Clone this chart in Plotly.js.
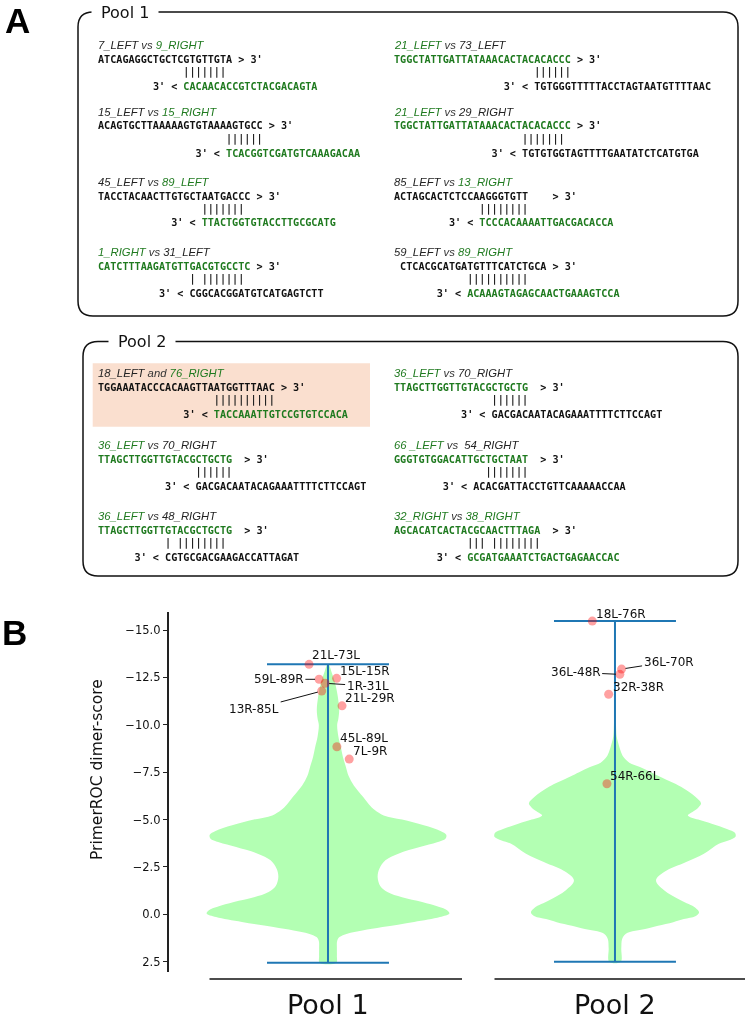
<!DOCTYPE html>
<html><head><meta charset="utf-8">
<script src="https://cdn.plot.ly/plotly-3.0.1.min.js"></script>
<style>html,body{margin:0;padding:0;background:#fff}#chart{width:749px;height:1020px}
svg.main-svg{will-change:transform}</style>
</head><body><div id="chart"></div>
<script>
// ---------------- Panel A data ----------------
const dimerPool   = [1,1,1,1,1,1,1,1, 2,2,2,2,2,2];
const dimerNameA  = ['7_LEFT','15_LEFT','45_LEFT','1_RIGHT','21_LEFT','21_LEFT','85_LEFT','59_LEFT',
                     '18_LEFT','36_LEFT','36_LEFT','36_LEFT','66 _LEFT','32_RIGHT'];
const dimerJoin   = ['vs','vs','vs','vs','vs','vs','vs','vs','and','vs','vs','vs','vs ','vs'];
const dimerNameB  = ['9_RIGHT','15_RIGHT','89_LEFT','31_LEFT','73_LEFT','29_RIGHT','13_RIGHT','89_RIGHT',
                     '76_RIGHT','70_RIGHT','48_RIGHT','70_RIGHT','54_RIGHT','38_RIGHT'];
const dimerAGreen = [0,0,0,1,1,1,0,0, 0,1,1,1,1,1];
const dimerBGreen = [1,1,1,0,0,0,1,1, 1,0,0,0,0,1];
const dimerTopSeq = ['ATCAGAGGCTGCTCGTGTTGTA','ACAGTGCTTAAAAAGTGTAAAAGTGCC','TACCTACAACTTGTGCTAATGACCC',
                     'CATCTTTAAGATGTTGACGTGCCTC','TGGCTATTGATTATAAACACTACACACCC','TGGCTATTGATTATAAACACTACACACCC',
                     'ACTAGCACTCTCCAAGGGTGTT','CTCACGCATGATGTTTCATCTGCA',
                     'TGGAAATACCCACAAGTTAATGGTTTAAC','TTAGCTTGGTTGTACGCTGCTG','TTAGCTTGGTTGTACGCTGCTG',
                     'TTAGCTTGGTTGTACGCTGCTG','GGGTGTGGACATTGCTGCTAAT','AGCACATCACTACGCAACTTTAGA'];
const dimerBotSeq = ['CACAACACCGTCTACGACAGTA','TCACGGTCGATGTCAAAGACAA','TTACTGGTGTACCTTGCGCATG',
                     'CGGCACGGATGTCATGAGTCTT','TGTGGGTTTTTACCTAGTAATGTTTTAAC','TGTGTGGTAGTTTTGAATATCTCATGTGA',
                     'TCCCACAAAATTGACGACACCA','ACAAAGTAGAGCAACTGAAAGTCCA',
                     'TACCAAATTGTCCGTGTCCACA','GACGACAATACAGAAATTTTCTTCCAGT','CGTGCGACGAAGACCATTAGAT',
                     'GACGACAATACAGAAATTTTCTTCCAGT','ACACGATTACCTGTTCAAAAACCAA','GCGATGAAATCTGACTGAGAACCAC'];
const dimerBars   = ['|||||||','||||||','|||||||','| |||||||','||||||','|||||||','||||||||','||||||||||',
                     '||||||||||','||||||','| ||||||||','||||||','|||||||','||| ||||||||'];
const poolTitles  = ['Pool 1','Pool 2'];
const panelLetters = ['A','B'];

// ---------------- Panel B data ----------------
const pools = ['Pool 1','Pool 2'];
const yTickVals   = [-15,-12.5,-10,-7.5,-5,-2.5,0,2.5];
const yTickLabels = ['\u221215.0','\u221212.5','\u221210.0','\u22127.5','\u22125.0','\u22122.5','0.0','2.5'];
const yTitle = 'PrimerROC dimer-score';
const poolMax = [-13.2, -15.47];
const poolMin = [2.55, 2.5];
const pool1ProfileScore = [-13.2,-13.0,-12.8,-12.5,-12.0,-11.5,-10.8,-10.3,-10.0,-9.4,-8.8,-8.3,-7.8,-7.3,-6.8,-6.2,-5.8,-5.5,-5.22,-5.0,-4.7,-4.4,-4.2,-4.0,-3.8,-3.55,-3.2,-2.85,-2.4,-1.97,-1.5,-1.18,-0.9,-0.65,-0.4,-0.22,-0.05,0.14,0.4,0.67,0.85,1.02,1.2,1.4,1.8,2.2,2.55];
const pool1ProfileHalf  = [0.003,0.008,0.012,0.019,0.028,0.034,0.039,0.036,0.032,0.036,0.045,0.052,0.062,0.072,0.09,0.122,0.143,0.163,0.194,0.258,0.334,0.392,0.412,0.41,0.38,0.32,0.245,0.20,0.179,0.173,0.182,0.207,0.258,0.328,0.385,0.415,0.423,0.39,0.30,0.19,0.12,0.067,0.04,0.032,0.031,0.031,0.029];
const pool2ProfileScore = [-15.47,-14.0,-12.0,-10.5,-9.8,-9.37,-9.0,-8.6,-8.31,-8.0,-7.78,-7.5,-7.26,-6.73,-6.2,-5.85,-5.63,-5.4,-5.22,-5.0,-4.78,-4.5,-4.3,-4.1,-3.9,-3.73,-3.2,-2.76,-2.23,-1.79,-1.27,-0.74,-0.35,-0.1,0.1,0.25,0.41,0.6,0.76,1.02,1.3,1.8,2.5];
const pool2ProfileHalf  = [0.001,0.001,0.002,0.003,0.004,0.006,0.012,0.02,0.029,0.05,0.087,0.125,0.157,0.23,0.28,0.30,0.29,0.27,0.254,0.29,0.337,0.39,0.418,0.42,0.395,0.362,0.31,0.248,0.171,0.143,0.171,0.229,0.28,0.293,0.28,0.24,0.203,0.15,0.109,0.038,0.025,0.022,0.02];
const pool1PairNames  = ['21L-73L','59L-89R','15L-15R','1R-31L','13R-85L','21L-29R','45L-89L','7L-9R'];
const pool1PairScores = [-13.19,-12.40,-12.45,-12.19,-11.78,-11.00,-8.84,-8.19];
const pool1PairJitter = [-0.066,-0.031,0.030,-0.010,-0.022,0.049,0.031,0.074];
const pool2PairNames  = ['18L-76R','36L-70R','36L-48R','32R-38R','54R-66L'];
const pool2PairScores = [-15.47,-12.94,-12.66,-11.61,-6.89];
const pool2PairJitter = [-0.079,0.023,0.017,-0.022,-0.028];

// ---------------- layout / style ----------------
const W=749, H=1020, ML=169, MR=0, MT=612, MB=48;
const px = x => (x-ML)/(W-ML-MR);
const py = y => (H-MB-y)/(H-MT-MB);
const GREEN='#1f7a1f', DARK='#222';
const blockX = [98.3,98.3,98.3,98.3,394,394,394,394, 98.3,98.3,98.3,394,394,394];
const blockY = [45,112,182,252,45,112,182,252, 373,445,516,373,445,516];
const topLead = [0,0,0,0,0,0,0,1, 0,0,0,0,0,0];
const gapCols = [1,1,1,1,1,1,4,1, 1,2,2,2,2,2];
const barCol  = [14,21,17,15,23,21,14,12, 19,16,11,16,15,12];
const botCol  = [14,21,17,15,23,21,14,12, 19,16,11,16,13,12];
const LINE_DY = [0,14,27,41];
const nb = n => '\u00A0'.repeat(Math.max(0,n));
const sp = s => s.replace(/ /g,'\u00A0');

const annotations = [];
const shapes = [];

function rrect(x0,y0,x1,y1,r){
  return `M ${px(x0+r)},${py(y0)} L ${px(x1-r)},${py(y0)} Q ${px(x1)},${py(y0)} ${px(x1)},${py(y0+r)} `+
         `L ${px(x1)},${py(y1-r)} Q ${px(x1)},${py(y1)} ${px(x1-r)},${py(y1)} `+
         `L ${px(x0+r)},${py(y1)} Q ${px(x0)},${py(y1)} ${px(x0)},${py(y1-r)} `+
         `L ${px(x0)},${py(y0+r)} Q ${px(x0)},${py(y0)} ${px(x0+r)},${py(y0)} Z`;
}
const boxGeom = [[78,12,738,316],[83,341.5,738,576]];
boxGeom.forEach(g=>shapes.push({type:'path',xref:'paper',yref:'paper',path:rrect(g[0],g[1],g[2],g[3],15),
  line:{color:'#111',width:1.5},layer:'below'}));
shapes.push({type:'rect',xref:'paper',yref:'paper',x0:px(92.7),x1:px(370),y0:py(363.3),y1:py(426.7),
  fillcolor:'#fadfcf',line:{width:0},layer:'below'});
const poolTitleX = [125,142], poolTitleY=[12,341];
poolTitles.forEach((t,i)=>annotations.push({xref:'paper',yref:'paper',x:px(poolTitleX[i]),y:py(poolTitleY[i]),
  text:t,showarrow:false,xanchor:'center',yanchor:'middle',bgcolor:'#fff',borderpad:9,
  font:{family:'DejaVu Sans',size:16,color:'#111'}}));

const mono = {family:'DejaVu Sans Mono',size:10.13,color:'#111'};
for(let i=0;i<dimerTopSeq.length;i++){
  const x0=blockX[i]-1, y0=blockY[i];
  const cA = dimerAGreen[i]?GREEN:DARK, cB = dimerBGreen[i]?GREEN:DARK;
  const hdr = `<i><span style="color:${cA}">${sp(dimerNameA[i])}</span>\u00A0${sp(dimerJoin[i])}\u00A0<span style="color:${cB}">${sp(dimerNameB[i])}</span></i>`;
  const top = nb(topLead[i]) + `<b><span style="color:${cA==DARK?'#111':GREEN}">${dimerTopSeq[i]}</span>${nb(gapCols[i])}&gt;\u00A03'</b>`;
  const bars = nb(barCol[i]) + '<b>' + sp(dimerBars[i]) + '</b>';
  const bot = nb(botCol[i]-5) + `<b>3'\u00A0&lt;\u00A0<span style="color:${cB==DARK?'#111':GREEN}">${dimerBotSeq[i]}</span></b>`;
  const lines = [[hdr,{family:'Liberation Sans',size:11.3,color:'#333'}],[top,mono],[bars,{family:'DejaVu Sans Mono',size:10.13,color:'#222'}],[bot,mono]];
  lines.forEach((l,k)=>annotations.push({xref:'paper',yref:'paper',x:px(x0),y:py(y0+LINE_DY[k]),text:l[0],
    showarrow:false,xanchor:'left',yanchor:'middle',borderpad:0,font:l[1]}));
}
const letterPos=[[17.5,20.5],[14,632.5]];
panelLetters.forEach((t,i)=>annotations.push({xref:'paper',yref:'paper',x:px(letterPos[i][0]),y:py(letterPos[i][1]),
  text:'<b>'+t+'</b>',showarrow:false,xanchor:'center',yanchor:'middle',borderpad:0,font:{family:'Liberation Sans',size:35,color:'#000'}}));

// ---------------- Panel B traces ----------------
const traces=[];
const profiles=[[pool1ProfileScore,pool1ProfileHalf],[pool2ProfileScore,pool2ProfileHalf]];
profiles.forEach((p,i)=>{
  const ys=p[0], hs=p[1];
  const xr=ys.map((y,k)=>i+hs[k]), xl=ys.map((y,k)=>i-hs[k]);
  traces.push({type:'scatter',mode:'lines',x:xr.concat(xl.slice().reverse()),y:ys.concat(ys.slice().reverse()),
    fill:'toself',fillcolor:'#b3ffb3',line:{width:0,shape:'spline',smoothing:1,color:'rgba(0,0,0,0)'},hoverinfo:'skip',showlegend:false});
});
const CAP=0.2125;
pools.forEach((p,i)=>{
  traces.push({type:'scatter',mode:'lines',x:[i,i],y:[poolMax[i],poolMin[i]],line:{color:'#1f77b4',width:2},showlegend:false});
  traces.push({type:'scatter',mode:'lines',x:[i-CAP,i+CAP],y:[poolMax[i],poolMax[i]],line:{color:'#1f77b4',width:2},showlegend:false});
  traces.push({type:'scatter',mode:'lines',x:[i-CAP,i+CAP],y:[poolMin[i],poolMin[i]],line:{color:'#1f77b4',width:2},showlegend:false});
});
const ptSets=[[pool1PairNames,pool1PairScores,pool1PairJitter,0],[pool2PairNames,pool2PairScores,pool2PairJitter,1]];
ptSets.forEach(s=>traces.push({type:'scatter',mode:'markers',x:s[2].map(j=>s[3]+j),y:s[1],text:s[0],
  marker:{size:9,color:'rgba(255,0,0,0.37)',line:{width:0}},cliponaxis:false,showlegend:false}));

const pool1LabelOff=[[27,-9.3,0],[-40.2,0,1],[28.7,-7.3,0],[42.5,2.7,1],[-67.5,18,1],[28.3,-8,0],[27.5,-8.4,0],[21,-8,0]];
const pool2LabelOff=[[28.7,-7,0],[47,-7.3,1],[-44.2,-2,1],[29.7,-7.6,0],[28.5,-8,0]];
[[ptSets[0],pool1LabelOff],[ptSets[1],pool2LabelOff]].forEach(([s,offs])=>{
  s[0].forEach((name,k)=>{
    const o=offs[k];
    const a={xref:'x',yref:'y',x:s[3]+s[2][k],y:s[1][k],text:name,font:{family:'DejaVu Sans',size:12,color:'#111'}};
    if(o[2]){Object.assign(a,{showarrow:true,ax:o[0],ay:o[1],arrowhead:0,arrowwidth:1,arrowcolor:'#111',standoff:4,borderpad:1});}
    else{Object.assign(a,{showarrow:false,xshift:o[0],yshift:-o[1],xanchor:'center',yanchor:'middle'});}
    annotations.push(a);
  });
});
pools.forEach((p,i)=>annotations.push({xref:'x',yref:'paper',x:i,y:py(1004),text:p,showarrow:false,borderpad:0,
  xanchor:'center',yanchor:'middle',font:{family:'DejaVu Sans',size:27,color:'#111'}}));
annotations.push({xref:'paper',yref:'paper',x:px(97),y:py(770),text:yTitle,textangle:-90,showarrow:false,
  xanchor:'center',yanchor:'middle',font:{family:'DejaVu Sans',size:15.5,color:'#111'}});
const baseSeg=[[209.5,462],[494.5,745]];
baseSeg.forEach(b=>shapes.push({type:'line',xref:'paper',yref:'paper',x0:px(b[0]),x1:px(b[1]),y0:py(979),y1:py(979),line:{color:'#111',width:1.6}}));

const layout={width:W,height:H,margin:{l:ML,r:MR,t:MT,b:MB},paper_bgcolor:'#fff',plot_bgcolor:'rgba(0,0,0,0)',
  font:{family:'DejaVu Sans',color:'#111'},showlegend:false,
  xaxis:{range:[-0.554,1.467],showticklabels:false,showgrid:false,zeroline:false,showline:false,ticks:''},
  yaxis:{range:[3.04,-15.95],tickmode:'array',tickvals:yTickVals,ticktext:yTickLabels,ticks:'outside',ticklen:4.5,tickwidth:1,
    tickcolor:'#222',showline:true,linecolor:'#222',linewidth:1.6,showgrid:false,zeroline:false,tickfont:{size:11.5,color:'#111'}},
  shapes:shapes,annotations:annotations};
Plotly.newPlot('chart',traces,layout,{staticPlot:true});
</script></body></html>
